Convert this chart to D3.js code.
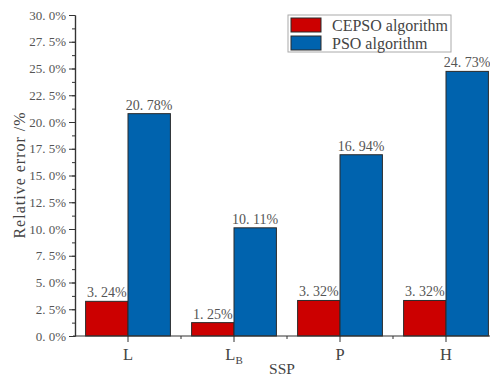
<!DOCTYPE html>
<html><head><meta charset="utf-8">
<script src="https://cdn.jsdelivr.net/npm/d3@7"></script>
<style>body{margin:0;background:#fff}svg{display:block}</style>
</head><body>
<svg id="c" width="490" height="376"></svg>
<script>
const categories = ["L", "LB", "P", "H"];
const seriesNames = ["CEPSO algorithm", "PSO algorithm"];
const cepso = [3.24, 1.25, 3.32, 3.32];
const pso = [20.78, 10.11, 16.94, 24.73];
const yTicks = [0, 2.5, 5, 7.5, 10, 12.5, 15, 17.5, 20, 22.5, 25, 27.5, 30];
const colors = ["#cc0000", "#0063ae"];

const svg = d3.select("#c");
const font = "'Liberation Serif', 'DejaVu Serif', serif";
const x0 = d3.scaleBand().domain(categories).range([75, 499]).padding(0);
const x1 = d3.scaleBand().domain(seriesNames).range([x0.bandwidth()*0.1, x0.bandwidth()*0.9]).padding(0);
const y = d3.scaleLinear().domain([0, 30]).range([336, 15]);
const color = d3.scaleOrdinal().domain(seriesNames).range(colors);
const data = categories.map((c, i) => ({cat: c, vals: [{s: seriesNames[0], v: cepso[i]}, {s: seriesNames[1], v: pso[i]}]}));
const fmt = v => d3.format(".2f")(v).replace(".", ". ") + "%";

// bars
const g = svg.append("g");
const groups = g.selectAll("g").data(data).join("g").attr("transform", d => `translate(${x0(d.cat)},0)`);
groups.selectAll("rect").data(d => d.vals).join("rect")
  .attr("x", d => x1(d.s)).attr("y", d => y(d.v))
  .attr("width", x1.bandwidth()).attr("height", d => y(0) - y(d.v))
  .attr("fill", d => color(d.s)).attr("stroke", "#2a2a2a").attr("stroke-width", 1);
groups.selectAll("text").data(d => d.vals).join("text")
  .attr("x", d => x1(d.s) + x1.bandwidth()/2).attr("y", d => y(d.v) - 4)
  .attr("text-anchor", "middle").attr("font-family", font).attr("font-size", 14)
  .attr("fill", "#555").text(d => fmt(d.v));

// y axis
const yMinor = d3.range(0, 30.01, 1.25);
const ya = svg.append("g").attr("transform", "translate(75,0)");
ya.append("g").call(d3.axisLeft(y).tickValues(yMinor).tickSize(3).tickFormat("").tickSizeOuter(0));
ya.append("g").call(d3.axisLeft(y).tickValues(yTicks).tickSize(6).tickPadding(3).tickSizeOuter(0)
  .tickFormat(v => d3.format(".1f")(v).replace(".", ". ") + "%"));
ya.selectAll("path").attr("stroke", "#333").attr("stroke-width", 1.2);
ya.selectAll("line").attr("stroke", "#333");
ya.selectAll("text").attr("font-family", font).attr("font-size", 13).attr("fill", "#555");

// x axis
const xa = svg.append("g").attr("transform", "translate(0,336)");
xa.append("line").attr("x1", 73).attr("x2", 499).attr("stroke", "#333").attr("stroke-width", 1.2);
xa.selectAll("line.mj").data(categories).join("line").attr("class", "mj")
  .attr("x1", d => x0(d) + x0.bandwidth()/2).attr("x2", d => x0(d) + x0.bandwidth()/2)
  .attr("y1", 0).attr("y2", 6).attr("stroke", "#333");
xa.selectAll("line.mn").data(categories.slice(1)).join("line").attr("class", "mn")
  .attr("x1", d => x0(d)).attr("x2", d => x0(d)).attr("y1", 0).attr("y2", 3).attr("stroke", "#333");
const xl = xa.selectAll("text.cl").data(categories).join("text").attr("class", "cl")
  .attr("x", d => x0(d) + x0.bandwidth()/2).attr("y", 24)
  .attr("text-anchor", "middle").attr("font-family", font).attr("font-size", 16.5).attr("fill", "#444");
xl.each(function(d) {
  const t = d3.select(this);
  t.append("tspan").text(d[0]);
  if (d.length > 1) t.append("tspan").attr("font-size", 11).attr("dy", 4).text(d.slice(1));
});

// axis titles
svg.append("text").attr("x", 282).attr("y", 374).attr("text-anchor", "middle")
  .attr("font-family", font).attr("font-size", 15.5).attr("fill", "#444").text("SSP");
svg.append("text").attr("transform", "translate(25,175) rotate(-90)").attr("text-anchor", "middle")
  .attr("font-family", font).attr("font-size", 16).attr("letter-spacing", 1).attr("fill", "#444")
  .text("Relative error /%");

// legend
const lg = svg.append("g").attr("transform", "translate(288,15)");
lg.append("rect").attr("width", 163).attr("height", 37).attr("fill", "#fff").attr("stroke", "#aaa");
const li = lg.selectAll("g").data(seriesNames).join("g").attr("transform", (d, i) => `translate(3,${3 + i*18})`);
li.append("rect").attr("width", 30).attr("height", 14).attr("fill", d => color(d)).attr("stroke", "#2a2a2a");
li.append("text").attr("x", 41).attr("y", 12.5).attr("font-family", font).attr("font-size", 16)
  .attr("fill", "#444").text(d => d);
</script>
</body></html>
